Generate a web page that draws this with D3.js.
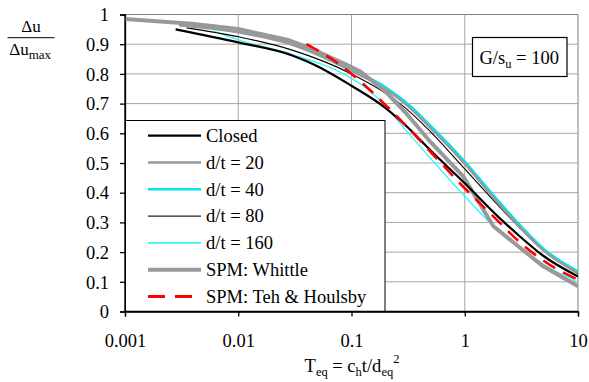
<!DOCTYPE html>
<html><head><meta charset="utf-8">
<script src="https://cdn.jsdelivr.net/npm/d3@7"></script>
<style>
body{margin:0;background:#fff;}
svg{display:block;}
svg text{font-family:"Liberation Serif","Tinos","Times New Roman","DejaVu Serif",serif;}
</style></head>
<body><svg id="c" width="589" height="382"></svg>
<script>
// ---- data ----
const xTickLabels = ["0.001","0.01","0.1","1","10"];
const xTicks = [0.001,0.01,0.1,1,10];
const yTicks = [0,0.1,0.2,0.3,0.4,0.5,0.6,0.7,0.8,0.9,1];
const yTickLabels = ["0","0.1","0.2","0.3","0.4","0.5","0.6","0.7","0.8","0.9","1"];

const seriesNames = ["Closed","d/t = 20","d/t = 40","d/t = 80","d/t = 160","SPM: Whittle","SPM: Teh & Houlsby"];

const tClosed = [0.0028,0.01,0.03,0.05,0.1,0.2,0.3,0.5,1,2,3,5,10];
const vClosed = [0.95,0.906,0.862,0.826,0.76,0.685,0.627,0.542,0.432,0.317,0.256,0.186,0.118];

const tDt20 = [0.003,0.01,0.03,0.1,0.2,0.3,0.5,1,2,3,5,10];
const vDt20 = [0.964,0.94,0.898,0.81,0.748,0.698,0.617,0.497,0.362,0.288,0.204,0.13];

const tDt40 = [0.006,0.01,0.03,0.1,0.2,0.3,0.5,1,2,3,5,10];
const vDt40 = [0.962,0.945,0.905,0.815,0.755,0.705,0.625,0.505,0.37,0.295,0.21,0.135];

const tDt80 = [0.0035,0.01,0.03,0.1,0.2,0.3,0.5,1,2,3,5,10];
const vDt80 = [0.955,0.925,0.88,0.80,0.735,0.685,0.605,0.48,0.355,0.285,0.205,0.127];

const tDt160 = [0.006,0.01,0.03,0.085,0.15,0.2,0.3,0.5,1,2,3,5,10];
const vDt160 = [0.945,0.915,0.865,0.80,0.738,0.69,0.612,0.515,0.388,0.27,0.215,0.158,0.098];

const tWhittle = [0.001,0.0039,0.01,0.027,0.043,0.085,0.12,0.2,0.3,0.5,0.97,1.79,4.93,10];
const vWhittle = [0.985,0.969,0.951,0.915,0.887,0.836,0.808,0.74,0.67,0.57,0.455,0.287,0.152,0.085];

const tTeh = [0.04,0.07,0.1,0.2,0.3,0.5,1,2,3,5,10];
const vTeh = [0.90,0.845,0.80,0.695,0.627,0.537,0.415,0.302,0.236,0.17,0.107];

// ---- layout ----
const svg = d3.select("#c");
const L=125, R=578, T=14.5, B=311.5;
const x = d3.scaleLog().domain([0.001,10]).range([L,R]);
const y = d3.scaleLinear().domain([0,1]).range([B,T]);
const FF = '"Liberation Serif","Tinos","Times New Roman","DejaVu Serif",serif';

// grid
const g = svg.append("g");
g.selectAll(".hg").data(yTicks.slice(1)).enter().append("line")
  .attr("x1",L).attr("x2",R).attr("y1",d=>y(d)).attr("y2",d=>y(d))
  .attr("stroke",d=>d===1?"#808080":"#a6a6a6").attr("stroke-width",1);
g.selectAll(".vg").data(xTicks.slice(1)).enter().append("line")
  .attr("y1",T).attr("y2",B).attr("x1",d=>x(d)).attr("x2",d=>x(d))
  .attr("stroke",d=>d===10?"#808080":"#a6a6a6").attr("stroke-width",1);

// axes
const yAxis = d3.axisLeft(y).tickValues(yTicks).tickFormat((d,i)=>yTickLabels[i]).tickSize(5).tickPadding(11);
const xAxis = d3.axisBottom(x).tickValues(xTicks).tickFormat((d,i)=>xTickLabels[i]).tickSize(5).tickPadding(17);
const ya = svg.append("g").attr("transform",`translate(${L},0)`).call(yAxis);
const xa = svg.append("g").attr("transform",`translate(0,${B})`).call(xAxis);
[ya,xa].forEach(a=>{
  a.attr("font-family",FF);
  a.select(".domain").attr("stroke","#000").attr("stroke-width",1.3);
  a.selectAll(".tick line").attr("stroke","#000").attr("stroke-width",1.3);
  a.selectAll("text").attr("font-family",FF).attr("font-size",18.5).attr("fill","#000");
});
ya.selectAll("text").attr("dy","0.34em");

// curves
svg.append("clipPath").attr("id","pc").append("rect").attr("x",L).attr("y",T-3).attr("width",R-L).attr("height",B-T+3);
const lineM = d3.line().x(d=>x(d[0])).y(d=>y(d[1])).curve(d3.curveMonotoneX);
const lineL = d3.line().x(d=>x(d[0])).y(d=>y(d[1])).curve(d3.curveLinear);
const styles = [
  {t:tDt160,v:vDt160,c:"#33f5ff",w:1.3,dash:null,ln:lineM},
  {t:tDt80,v:vDt80,c:"#000",w:1.1,dash:null,ln:lineM},
  {t:tDt40,v:vDt40,c:"#00e6f0",w:2.6,dash:null,ln:lineM},
  {t:tDt20,v:vDt20,c:"#999",w:2.4,dash:null,ln:lineM},
  {t:tWhittle,v:vWhittle,c:"#999",w:4,dash:null,ln:lineL},
  {t:tClosed,v:vClosed,c:"#000",w:2.2,dash:null,ln:lineM},
  {t:tTeh,v:vTeh,c:"#ff0000",w:2.6,dash:"14,9",ln:lineM}
];
const cg = svg.append("g").attr("clip-path","url(#pc)");
styles.forEach(s=>{
  cg.append("path").datum(s.t.map((t,i)=>[t,s.v[i]]))
    .attr("d",s.ln).attr("fill","none").attr("stroke",s.c).attr("stroke-width",s.w)
    .attr("stroke-dasharray",s.dash).attr("stroke-linejoin","round");
});

// legend
const legStyles = [
  {c:"#000",w:2.2,dash:null},
  {c:"#999",w:2.4,dash:null},
  {c:"#00e6f0",w:2.6,dash:null},
  {c:"#222",w:1.2,dash:null},
  {c:"#33f5ff",w:1.6,dash:null},
  {c:"#999",w:4,dash:null},
  {c:"#ff0000",w:3,dash:"17,10"}
];
svg.append("rect").attr("x",125.5).attr("y",120.5).attr("width",259.5).attr("height",B-120.5)
  .attr("fill","#fff").attr("stroke","#000").attr("stroke-width",1);
const lg = svg.append("g");
seriesNames.forEach((n,i)=>{
  const yy = 135.7 + i*26.8;
  lg.append("line").attr("x1",148).attr("x2",201).attr("y1",yy).attr("y2",yy)
    .attr("stroke",legStyles[i].c).attr("stroke-width",legStyles[i].w).attr("stroke-dasharray",legStyles[i].dash);
  lg.append("text").attr("x",206).attr("y",yy+6.3).attr("font-size",18.5).attr("font-family",FF).text(n);
});
svg.append("line").attr("x1",L).attr("x2",L).attr("y1",T).attr("y2",B).attr("stroke","#000").attr("stroke-width",1.3);
svg.append("line").attr("x1",L).attr("x2",R).attr("y1",B).attr("y2",B).attr("stroke","#000").attr("stroke-width",1.3);

// G/su box
svg.append("rect").attr("x",472.5).attr("y",37.5).attr("width",94.5).attr("height",39).attr("fill","#fff").attr("stroke","#000").attr("stroke-width",1.2);
const gt = svg.append("text").attr("x",479.5).attr("y",64.3).attr("font-size",18.5).attr("font-family",FF);
gt.append("tspan").text("G/s");
gt.append("tspan").attr("font-size",12.5).attr("dy",4).text("u");
gt.append("tspan").attr("dy",-4).text(" = 100");

// x title
const xt = svg.append("text").attr("x",352).attr("y",372).attr("text-anchor","middle").attr("font-size",18.5).attr("font-family",FF);
xt.append("tspan").text("T");
xt.append("tspan").attr("font-size",12.5).attr("dy",4).text("eq");
xt.append("tspan").attr("dy",-4).text(" = c");
xt.append("tspan").attr("font-size",12.5).attr("dy",4).text("h");
xt.append("tspan").attr("dy",-4).text("t/d");
xt.append("tspan").attr("font-size",12.5).attr("dy",4).text("eq");
xt.append("tspan").attr("font-size",12.5).attr("dy",-13).text("2");

// y title (fraction)
svg.append("text").attr("x",31).attr("y",31.7).attr("text-anchor","middle").attr("font-size",17).attr("font-family",FF).text("\u0394u");
svg.append("line").attr("x1",7.5).attr("x2",54.5).attr("y1",37.7).attr("y2",37.7).attr("stroke","#000").attr("stroke-width",1);
const yt = svg.append("text").attr("x",9.3).attr("y",55).attr("font-size",17).attr("font-family",FF);
yt.append("tspan").text("\u0394u");
yt.append("tspan").attr("font-size",13).attr("dy",3.5).text("max");
</script></body></html>
